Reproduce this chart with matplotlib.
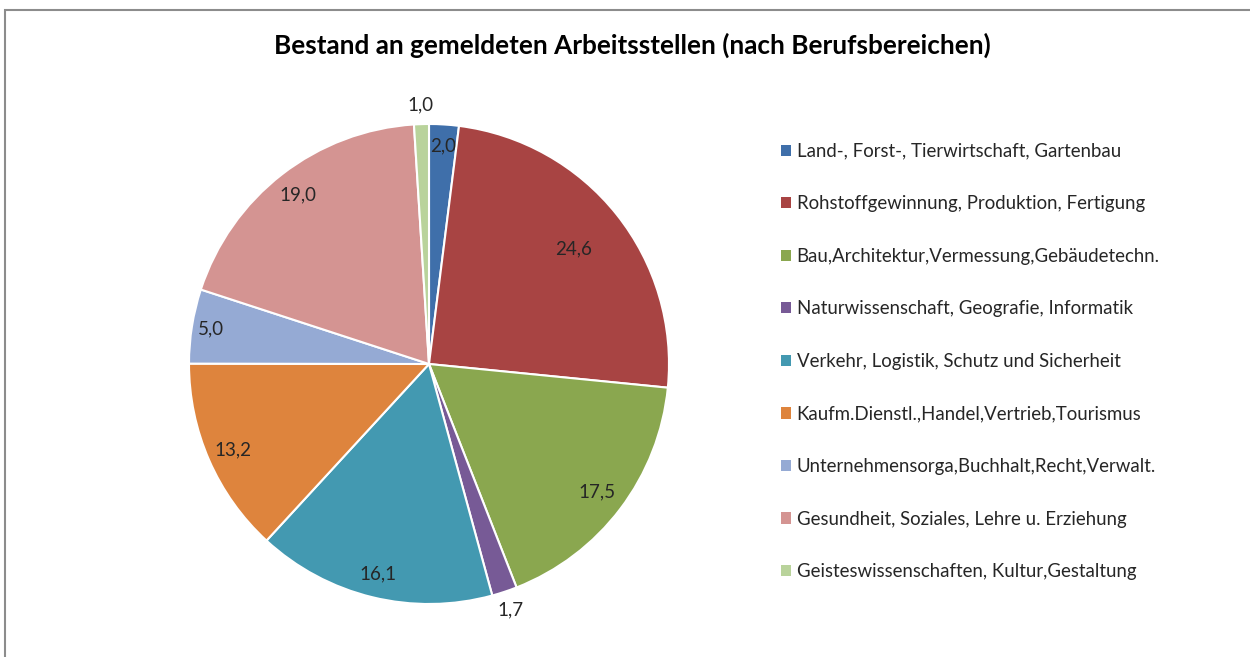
import numpy as np
import matplotlib.pyplot as plt
from matplotlib.patches import Patch, Rectangle

plt.rcParams['font.family'] = ['Lato', 'DejaVu Sans']

kategorien = [
    "Land-, Forst-, Tierwirtschaft, Gartenbau",
    "Rohstoffgewinnung, Produktion, Fertigung",
    "Bau,Architektur,Vermessung,Gebäudetechn.",
    "Naturwissenschaft, Geografie, Informatik",
    "Verkehr, Logistik, Schutz und Sicherheit",
    "Kaufm.Dienstl.,Handel,Vertrieb,Tourismus",
    "Unternehmensorga,Buchhalt,Recht,Verwalt.",
    "Gesundheit, Soziales, Lehre u. Erziehung",
    "Geisteswissenschaften, Kultur,Gestaltung",
]
anteile = [2.0, 24.6, 17.5, 1.7, 16.1, 13.2, 5.0, 19.0, 1.0]
farben = ["#3F6FAA", "#A84443", "#8AA74F", "#775A96", "#4399B1",
          "#DE843D", "#95AAD4", "#D49492", "#B9D39B"]
# Abstand der Beschriftung vom Mittelpunkt (Anteil am Radius)
label_r = [0.91, 0.77, 0.88, 1.08, 0.9, 0.89, 0.92, 0.89, 1.08]

fig = plt.figure(figsize=(12.5, 6.57), dpi=100)
fig.patches.append(Rectangle((5 / 1250, -0.1), 1.2, (647 / 657) + 0.1,
                             transform=fig.transFigure, fill=False,
                             edgecolor="#8c8c8c", linewidth=1.5))

ax = fig.add_axes([189 / 1250, 53 / 657, 480 / 1250, 480 / 657])
wedges, _ = ax.pie(anteile, colors=farben, startangle=90, counterclock=False,
                   wedgeprops=dict(edgecolor="white", linewidth=1.5))
ax.set_xlim(-1, 1)
ax.set_ylim(-1, 1)
ax.set_aspect("equal")

for w, val, r in zip(wedges, anteile, label_r):
    ang = np.deg2rad((w.theta1 + w.theta2) / 2)
    ax.text(r * np.cos(ang), r * np.sin(ang), f"{val:.1f}".replace(".", ","),
            ha="center", va="center", fontsize=13.5, color="#262626")

fig.text(632 / 1250, 1 - 45 / 657,
         "Bestand an gemeldeten Arbeitsstellen (nach Berufsbereichen)",
         ha="center", va="center", fontsize=18.8, fontweight="bold", color="black")

handles = [Patch(facecolor=c, edgecolor="none") for c in farben]
fig.legend(handles, kategorien, loc="upper left",
           bbox_to_anchor=(764 / 1250, 1 - 126 / 657), frameon=False,
           fontsize=13.4, handlelength=0.55, handleheight=0.55, handletextpad=0.3,
           labelspacing=1.91, labelcolor="#262626")

fig.savefig("out.png", dpi=100)
